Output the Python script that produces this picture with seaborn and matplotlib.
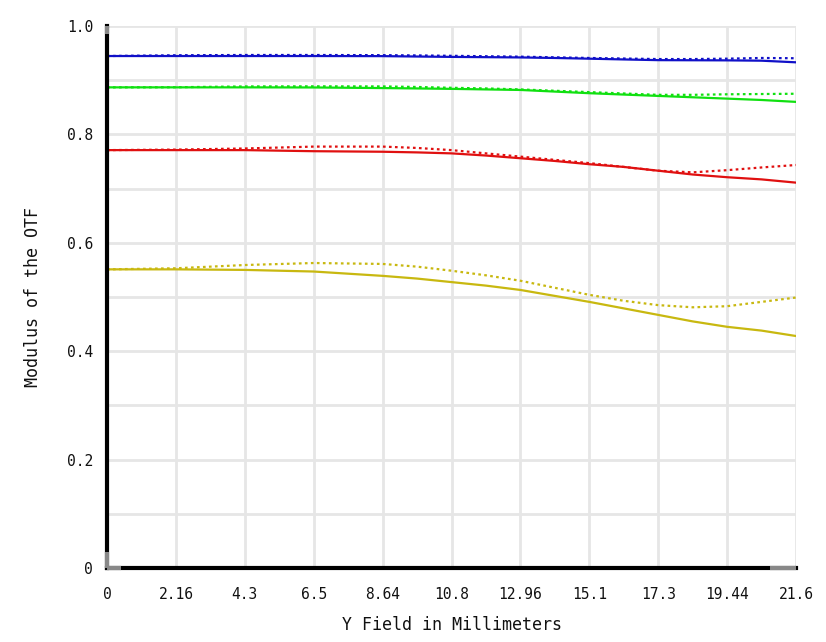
import numpy as np
import pandas as pd
import matplotlib
matplotlib.use("Agg")
import matplotlib.pyplot as plt
import seaborn as sns

# ---- data ----
field = [0, 2.16, 4.32, 6.48, 8.64, 9.72, 10.8, 11.88, 12.96, 14.04, 15.12,
         16.2, 17.28, 18.36, 19.44, 20.52, 21.6]

blue_t = [0.9446, 0.9446, 0.9446, 0.9446, 0.9444, 0.9437, 0.9430, 0.9425, 0.9420, 0.9410, 0.9397,
          0.9383, 0.9370, 0.9368, 0.9366, 0.9360, 0.9330]
blue_s = [0.9446, 0.9460, 0.9465, 0.9465, 0.9462, 0.9457, 0.9450, 0.9442, 0.9434, 0.9422, 0.9410,
          0.9400, 0.9390, 0.9390, 0.9397, 0.9410, 0.9405]

green_t = [0.8868, 0.8868, 0.8868, 0.8866, 0.8855, 0.8848, 0.8840, 0.8830, 0.8820, 0.8790, 0.8760,
           0.8735, 0.8710, 0.8685, 0.8660, 0.8635, 0.8600]
green_s = [0.8868, 0.8870, 0.8885, 0.8887, 0.8885, 0.8875, 0.8860, 0.8848, 0.8830, 0.8805, 0.8780,
           0.8755, 0.8730, 0.8730, 0.8740, 0.8745, 0.8750]

red_t = [0.7710, 0.7710, 0.7710, 0.7690, 0.7680, 0.7668, 0.7650, 0.7610, 0.7560, 0.7510, 0.7450,
         0.7400, 0.7330, 0.7260, 0.7210, 0.7170, 0.7110]
red_s = [0.7710, 0.7720, 0.7740, 0.7775, 0.7775, 0.7750, 0.7710, 0.7650, 0.7590, 0.7530, 0.7470,
         0.7400, 0.7330, 0.7300, 0.7340, 0.7390, 0.7435]

yel_t = [0.5510, 0.5510, 0.5500, 0.5470, 0.5390, 0.5340, 0.5275, 0.5210, 0.5130, 0.5020, 0.4910,
         0.4790, 0.4670, 0.4550, 0.4450, 0.4380, 0.4280]
yel_s = [0.5510, 0.5530, 0.5590, 0.5627, 0.5610, 0.5560, 0.5485, 0.5400, 0.5300, 0.5170, 0.5040,
         0.4930, 0.4850, 0.4810, 0.4830, 0.4910, 0.4990]

xtick_vals = [0, 2.16, 4.32, 6.48, 8.64, 10.8, 12.96, 15.12, 17.28, 19.44, 21.6]
xtick_labels = ["0", "2.16", "4.3", "6.5", "8.64", "10.8", "12.96", "15.1", "17.3", "19.44", "21.6"]
ytick_vals = [0, 0.2, 0.4, 0.6, 0.8, 1.0]
ytick_labels = ["0", "0.2", "0.4", "0.6", "0.8", "1.0"]

series = [
    ("blue", "T", blue_t), ("blue", "S", blue_s),
    ("green", "T", green_t), ("green", "S", green_s),
    ("red", "T", red_t), ("red", "S", red_s),
    ("yellow", "T", yel_t), ("yellow", "S", yel_s),
]
rows = []
for name, kind, vals in series:
    for x, v in zip(field, vals):
        rows.append({"field": x, "mtf": v, "curve": name + "_" + kind})
df = pd.DataFrame(rows)

colors = {"blue": "#1010c8", "green": "#10e010", "red": "#e01010", "yellow": "#c8b810"}

sns.set_theme(style="white")
plt.rcParams["font.family"] = ["DejaVu Sans Mono", "DejaVu Sans"]

fig = plt.figure(figsize=(8.26, 6.42), dpi=100)
ax = fig.add_axes([107 / 826, 1 - 568 / 642, 689 / 826, 542 / 642])

for name, kind, vals in series:
    sub = df[df["curve"] == name + "_" + kind]
    sns.lineplot(data=sub, x="field", y="mtf", ax=ax, color=colors[name],
                 linewidth=1.6,
                 linestyle="-" if kind == "T" else (0, (1.2, 1.5)),
                 legend=False, zorder=3 if kind == "T" else 2)

ax.set_xlim(0, 21.6)
ax.set_ylim(0, 1.0)
ax.set_xticks(xtick_vals)
ax.set_xticklabels(xtick_labels, fontsize=10.5, color="#111111")
ax.set_yticks(ytick_vals)
ax.set_yticklabels(ytick_labels, fontsize=10.5, color="#111111")
ax.set_yticks(np.arange(0, 1.01, 0.1), minor=True)
ax.grid(True, which="both", color="#e6e6e6", linewidth=2, zorder=0)
ax.tick_params(axis="both", which="both", length=0)
ax.tick_params(axis="x", pad=14)
ax.tick_params(axis="y", pad=10)

ax.set_xlabel("Y Field in Millimeters", fontsize=12, labelpad=10, color="#111111")
ax.set_ylabel("Modulus of the OTF", fontsize=12, labelpad=18, color="#111111")

for s in ["top", "right"]:
    ax.spines[s].set_visible(False)
for s in ["left", "bottom"]:
    ax.spines[s].set_color("black")
    ax.spines[s].set_linewidth(3)
    ax.spines[s].set_zorder(4)

# gray end caps on the axis lines
cap = dict(color="#888888", linewidth=3, solid_capstyle="butt", clip_on=False, zorder=5)
ax.plot([0, 0], [0.985, 1.0], **cap)
ax.plot([0, 0], [0.0, 0.03], **cap)
ax.plot([0, 0.45], [0, 0], **cap)
ax.plot([20.8, 21.6], [0, 0], **cap)

fig.savefig("out.png", dpi=100, facecolor="white")
